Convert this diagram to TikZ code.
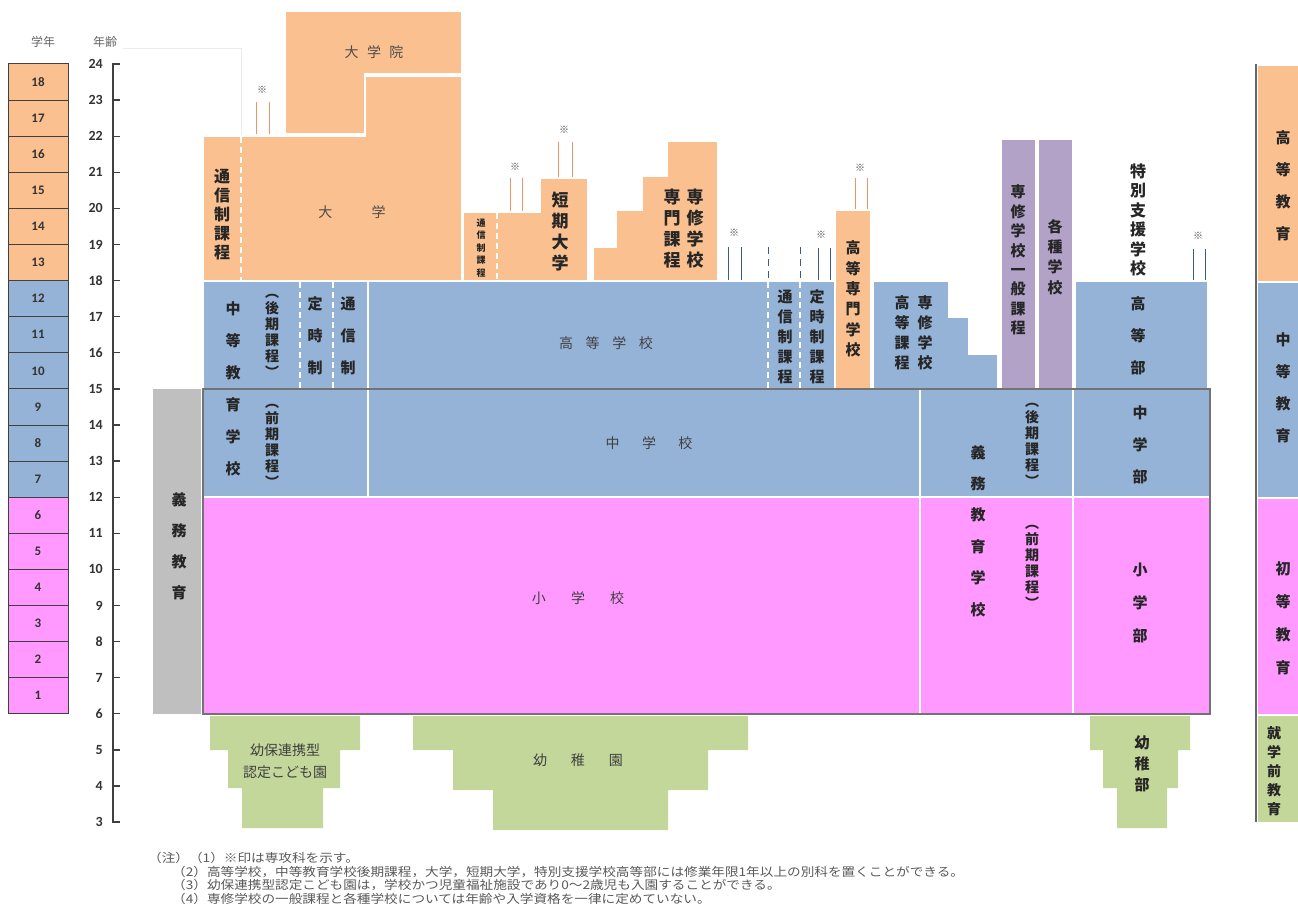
\documentclass[tikz,border=0pt]{standalone}
\usepackage{fontspec}
\newfontfamily\jp{Noto Sans CJK JP}
\newfontfamily\calf{Carlito}
\definecolor{orng}{HTML}{FAC08F}
\definecolor{blu}{HTML}{95B3D7}
\definecolor{pnk}{HTML}{FF99FF}
\definecolor{gry}{HTML}{BFBFBF}
\definecolor{grn}{HTML}{C4D79B}
\definecolor{prp}{HTML}{B3A2C7}
\definecolor{dk}{HTML}{404040}
\definecolor{mko}{HTML}{E8956A}
\definecolor{mkb}{HTML}{3C5A8A}
\tikzset{
  vt/.style 2 args={align=center,inner sep=0pt,text=black!85,font={\jp\bfseries\fontsize{#1}{#2}\selectfont}},
  ht/.style={inner sep=0pt,text=black!70,font={\jp\fontsize{14}{16}\selectfont}},
  hd/.style={inner sep=0pt,text=black!60,font={\jp\fontsize{12}{14}\selectfont}},
  gbox/.style={draw=dk,line width=1pt,minimum width=60pt,minimum height=36.1pt,inner sep=0pt,font={\calf\bfseries\fontsize{13}{13}\selectfont},text=black!80},
  agelab/.style={inner sep=0pt,anchor=east,font={\calf\bfseries\fontsize{14}{14}\selectfont},text=black!80},
  blk/.style={draw=white,line width=1.5pt},
  wdash/.style={white,line width=1.5pt,dash pattern=on 6pt off 4pt},
  mk/.style={inner sep=0pt,text=black!70,font={\jp\fontsize{10}{10}\selectfont}},
  mkline/.style={line width=0.9pt},
  note/.style={inner sep=0pt,anchor=west,text=black!65,font={\jp\fontsize{12}{13}\selectfont}}
}
\newcommand{\nsc}[1]{\scalebox{1.136}[1]{#1}}
\begin{document}
\begin{tikzpicture}[x=1pt,y=-1pt]
\useasboundingbox (0,0) rectangle (1298,915);

% headers
\node[hd] (hGrade) at (43,42) {学年};
\node[hd] (hAge) at (105,42) {年齢};
\draw[black!8] (123,48) -- (241,48) -- (241,136);

% grade boxes
\foreach \g in {13,...,18} \node[gbox,fill=orng] (g\g) at (38,{82.05+(18-\g)*36.1}) {\g};
\foreach \g in {7,...,12} \node[gbox,fill=blu] (g\g) at (38,{82.05+(18-\g)*36.1}) {\g};
\foreach \g in {1,...,6} \node[gbox,fill=pnk] (g\g) at (38,{82.05+(18-\g)*36.1}) {\g};

% age axis
\draw[dk,line width=1.3pt] (120,64) -- (113,64) -- (113,822) -- (120,822);
\foreach \a in {3,...,24} {
  \draw[dk,line width=1.3pt] (113,{64+(24-\a)*36.1}) -- (120,{64+(24-\a)*36.1});
  \node[agelab] (a\a) at (103,{64+(24-\a)*36.1}) {\a};
}

% ---------- higher education (orange) ----------
\fill[orng,blk] (285,11) -- (462,11) -- (462,74) -- (365,74) -- (365,134) -- (285,134) -- cycle;
\fill[orng,blk] (203,136) -- (365,136) -- (365,76) -- (462,76) -- (462,281) -- (203,281) -- cycle;
\draw[wdash] (241,137) -- (241,280);
\node[ht] (gs) at (374,52) {大\hspace{0.6em}学\hspace{0.6em}院};
\node[ht] (univ) at (352,212) {大\hspace{2.8em}学};
\node[vt={16}{19}] (univCorr) at (222,215) {通\\信\\制\\課\\程};

\fill[orng,blk] (463,212) -- (540,212) -- (540,178) -- (588,178) -- (588,281) -- (463,281) -- cycle;
\draw[wdash] (497,213) -- (497,280);
\node[vt={9}{12.5}] (jcCorr) at (481,248) {通\\信\\制\\課\\程};
\node[vt={17}{21}] (jc) at (560,232) {短\\期\\大\\学};

\fill[orng,blk] (593,281) -- (593,247) -- (616,247) -- (616,210) -- (642,210) -- (642,176) -- (667,176) -- (667,141) -- (718,141) -- (718,281) -- cycle;
\node[vt={17}{21}] (senmon1) at (695,229) {専\\修\\学\\校};
\node[vt={17}{21}] (senmon2) at (672,229) {専\\門\\課\\程};

% ---------- secondary (blue) ----------
\fill[blu,blk] (203,281) rectangle (835,389);
\draw[wdash] (300,282) -- (300,388);
\draw[wdash] (333,282) -- (333,388);
\draw[wdash] (768,282) -- (768,388);
\draw[wdash] (800,282) -- (800,388);
\node[ht,text=black!75] (hs) at (606,343) {高\hspace{0.9em}等\hspace{0.9em}学\hspace{0.9em}校};
\node[vt={15}{32}] (teiji) at (315,336) {定\\時\\制};
\node[vt={15}{32}] (tsushin) at (348,336) {通\\信\\制};
\node[vt={15}{20}] (hsCorr) at (785,337) {通\\信\\制\\課\\程};
\node[vt={15}{20}] (hsTeiji) at (817,337) {定\\時\\制\\課\\程};

\fill[orng,blk] (835,210) rectangle (871,389);
\node[vt={15}{20.4}] (kosen) at (853,299) {高\\等\\専\\門\\学\\校};

\fill[blu,blk] (873,281) -- (949,281) -- (949,317) -- (969,317) -- (969,354) -- (998,354) -- (998,389) -- (873,389) -- cycle;
\node[vt={15}{20}] (koto1) at (925,333) {専\\修\\学\\校};
\node[vt={15}{20}] (koto2) at (902,333) {高\\等\\課\\程};

\fill[prp,blk] (1001,139) rectangle (1036,389);
\fill[prp,blk] (1038,139) rectangle (1073,389);
\node[vt={15}{19.4}] (ippan) at (1018,260) {専\\修\\学\\校\\一\\般\\課\\程};
\node[vt={15}{20.3}] (kakushu) at (1055,257) {各\\種\\学\\校};

\fill[blu,blk] (1075,281) rectangle (1208,389);
\node[vt={16}{19.4}] (tokubetsu) at (1138,220) {特\\別\\支\\援\\学\\校};
\node[vt={15}{32}] (kotobu) at (1138,336) {高\\等\\部};

% dashed marks above correspondence
\draw[mkb,line width=0.9pt,dash pattern=on 7pt off 5pt] (768,247) -- (768,279);
\draw[mkb,line width=0.9pt,dash pattern=on 7pt off 5pt] (800,247) -- (800,279);

% ---------- compulsory ----------
\fill[blu] (203,389) rectangle (1210,497);
\fill[pnk] (203,497) rectangle (1210,714);
\draw[white,line width=2pt] (368,282) -- (368,496);
\draw[white,line width=2pt] (920,390) -- (920,713);
\draw[white,line width=2pt] (1073,390) -- (1073,713);
\draw[white,line width=2.5pt] (204,497) -- (1209,497);
\draw[black!55,line width=1.6pt] (203,389) rectangle (1210,714);
\fill[gry] (153,389) rectangle (201,714);
\node[vt={15}{31}] (gimu) at (179,546) {義\\務\\教\\育};

\node[vt={15}{32}] (chuto) at (233,389) {中\\等\\教\\育\\学\\校};
\node[vt={14}{16}] (koki1) at (272,336) {︵\\後\\期\\課\\程\\︶};
\node[vt={14}{16}] (zenki1) at (272,446) {︵\\前\\期\\課\\程\\︶};
\node[ht,text=black!75] (jhs) at (649,443) {中\hspace{1.6em}学\hspace{1.6em}校};
\node[ht,text=black!75] (es) at (578,598) {小\hspace{1.8em}学\hspace{1.8em}校};
\node[vt={15}{31.4}] (gimuSchool) at (978,531) {義\\務\\教\\育\\学\\校};
\node[vt={14}{16}] (koki2) at (1032,445) {︵\\後\\期\\課\\程\\︶};
\node[vt={14}{16}] (zenki2) at (1032,567) {︵\\前\\期\\課\\程\\︶};
\node[vt={15}{32}] (chubu) at (1140,445) {中\\学\\部};
\node[vt={15}{33}] (shobu) at (1140,603) {小\\学\\部};

% ---------- pre-school (green) ----------
\fill[grn] (210,716) -- (360,716) -- (360,750) -- (340,750) -- (340,788) -- (323,788) -- (323,828) -- (242,828) -- (242,788) -- (228,788) -- (228,750) -- (210,750) -- cycle;
\node[ht,align=center,text=black!75,font={\jp\fontsize{14}{22}\selectfont}] (nintei) at (285,761) {幼保連携型\\認定こども園};
\fill[grn] (413,716) -- (748,716) -- (748,750) -- (708,750) -- (708,790) -- (668,790) -- (668,830) -- (493,830) -- (493,790) -- (453,790) -- (453,750) -- (413,750) -- cycle;
\node[ht,text=black!75] (yochien) at (578,760) {幼\hspace{1.7em}稚\hspace{1.7em}園};
\fill[grn] (1090,716) -- (1190,716) -- (1190,750) -- (1178,750) -- (1178,788) -- (1167,788) -- (1167,828) -- (1117,828) -- (1117,788) -- (1103,788) -- (1103,750) -- (1090,750) -- cycle;
\node[vt={15}{21}] (yochibu) at (1142,764) {幼\\稚\\部};

% ---------- ※ marks ----------
\node[mk] (m1) at (262,90) {※};
\draw[mko,mkline] (256,102) -- (256,134); \draw[mko,mkline] (269,102) -- (269,134);
\node[mk] (m2) at (515,167) {※};
\draw[mko,mkline] (510,178) -- (510,211); \draw[mko,mkline] (522,178) -- (522,211);
\node[mk] (m3) at (564,130) {※};
\draw[mko,mkline] (558,142) -- (558,177); \draw[mko,mkline] (572,142) -- (572,177);
\node[mk] (m4) at (734,233) {※};
\draw[mkb,mkline] (728,247) -- (728,280); \draw[mkb,mkline] (741,247) -- (741,280);
\node[mk] (m5) at (821,235) {※};
\draw[mkb,mkline] (818,248) -- (818,280); \draw[mkb,mkline] (830,248) -- (830,280);
\node[mk] (m6) at (860,168) {※};
\draw[mko,mkline] (855,178) -- (855,209); \draw[mko,mkline] (867,178) -- (867,209);
\node[mk] (m7) at (1198,236) {※};
\draw[mkb,mkline] (1193,249) -- (1193,280); \draw[mkb,mkline] (1205,249) -- (1205,280);

% ---------- legend ----------
\draw[black!60,line width=1.5pt] (1256,64) -- (1256,822);
\fill[orng] (1258,66) rectangle (1298,281);
\fill[blu] (1258,283) rectangle (1298,497);
\fill[pnk] (1258,499) rectangle (1298,714);
\fill[grn] (1258,716) rectangle (1298,822);
\node[vt={15}{32}] (lgHigher) at (1283,186) {高\\等\\教\\育};
\node[vt={15}{32}] (lgSecondary) at (1283,388) {中\\等\\教\\育};
\node[vt={15}{33}] (lgPrimary) at (1283,618) {初\\等\\教\\育};
\node[vt={14}{19}] (lgPre) at (1274,771) {就\\学\\前\\教\\育};

% ---------- notes ----------
\node[note] (n1) at (148,858) {\nsc{（注）（1）※印は専攻科を示す。}};
\node[note] (n2) at (172,871.5) {\nsc{（2）高等学校，中等教育学校後期課程，大学，短期大学，特別支援学校高等部には修業年限1年以上の別科を置くことができる。}};
\node[note] (n3) at (172,885) {\nsc{（3）幼保連携型認定こども園は，学校かつ児童福祉施設であり0～2歳児も入園することができる。}};
\node[note] (n4) at (172,898.5) {\nsc{（4）専修学校の一般課程と各種学校については年齢や入学資格を一律に定めていない。}};
\end{tikzpicture}
\end{document}
